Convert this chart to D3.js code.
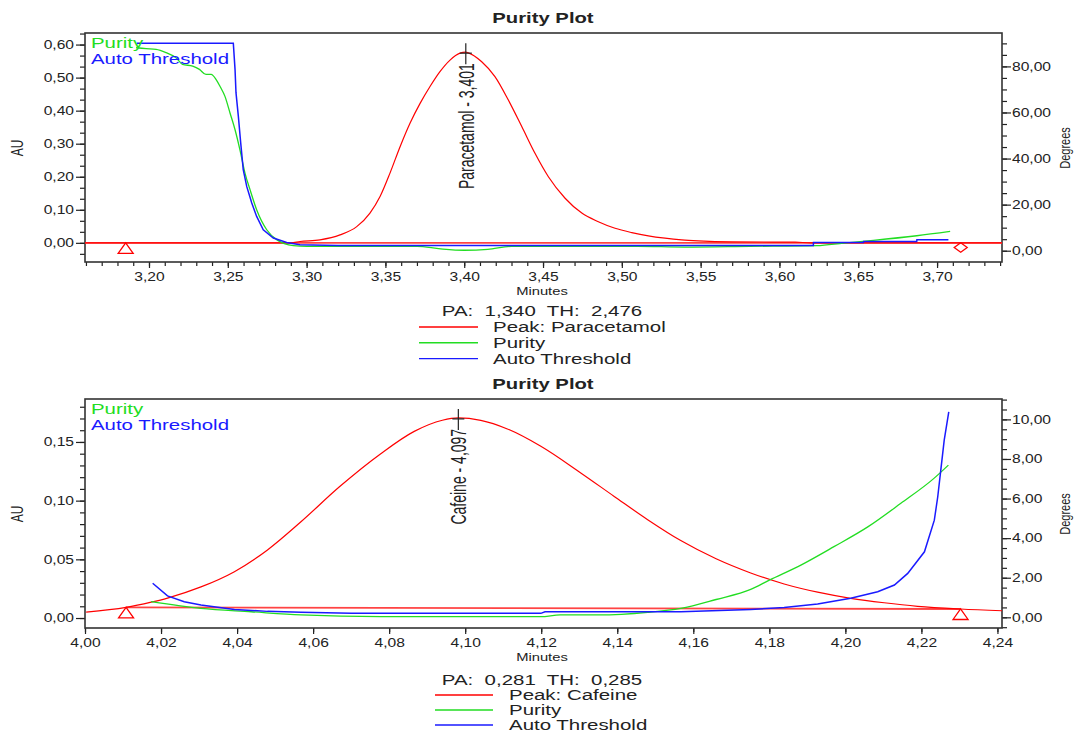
<!DOCTYPE html>
<html>
<head>
<meta charset="utf-8">
<script src="https://cdn.jsdelivr.net/npm/d3@7"></script>
<style>
body { margin: 0; background: #fff; }
svg { display: block; }
text { font-family: 'Liberation Sans', Arial, sans-serif; }
</style>
</head>
<body>
<svg id="chart" width="1079" height="736"></svg>
<script>
// ---------- top plot : Paracetamol ----------
var paraTime = [3.1594, 3.2900, 3.2958, 3.3085, 3.3212, 3.3318, 3.3402, 3.3466, 3.3529, 3.3593, 3.3656, 3.3720,
                3.3783, 3.3846, 3.3910, 3.3973, 3.4010, 3.4026, 3.4111, 3.4195, 3.4280, 3.4365, 3.4449, 3.4534,
                3.4640, 3.4746, 3.4851, 3.4957, 3.5063, 3.5168, 3.5274, 3.5380, 3.5486, 3.5700, 3.6100, 3.6200, 3.7412];
var paraAU   = [0, 0, 0.004, 0.009, 0.024, 0.049, 0.090, 0.140, 0.211, 0.291, 0.362, 0.422,
                0.473, 0.518, 0.553, 0.574, 0.577, 0.575, 0.548, 0.503, 0.432, 0.352, 0.271, 0.200,
                0.135, 0.090, 0.064, 0.044, 0.031, 0.021, 0.014, 0.009, 0.006, 0.003, 0.002, 0, 0];

var purity1Time = [3.1918, 3.1982, 3.2045, 3.2108, 3.2171, 3.2213, 3.2277, 3.2320, 3.2362, 3.2394, 3.2426, 3.2451,
                   3.2482, 3.2514, 3.2546, 3.2577, 3.2609, 3.2641, 3.2683, 3.2747, 3.2810, 3.2916, 3.3001, 3.3700,
                   3.3850, 3.4000, 3.4150, 3.4300, 3.5100, 3.5400, 3.5813, 3.6237, 3.6406, 3.6596, 3.6871, 3.7083];
var purity1Deg  = [88.1, 87.7, 87.4, 86.0, 83.8, 80.9, 80.1, 78.7, 76.5, 76.5, 74.3, 71.3,
                   67.0, 59.8, 52.5, 43.8, 33.7, 26.5, 17.8, 9.1, 4.8, 2.2, 1.9, 1.9,
                   0.8, 0.2, 0.6, 1.9, 1.9, 1.6, 1.9, 2.2, 3.3, 4.5, 6.5, 8.4];

var thresh1Time = [3.1924, 3.2535, 3.2546, 3.2552, 3.2567, 3.2582, 3.2598, 3.2620, 3.2652, 3.2683, 3.2725, 3.2789,
                   3.2874, 3.2958, 3.3200, 3.6215, 3.6216, 3.6533, 3.6534, 3.6871, 3.6872, 3.7072];
var thresh1Deg  = [90.1, 90.1, 78.6, 68.6, 58.3, 46.7, 35.2, 27.9, 20.7, 14.9, 9.1, 5.5,
                   3.6, 2.6, 2.3, 2.3, 3.6, 3.6, 4.0, 4.0, 4.8, 4.8];

var topMinuteTicks = [3.20, 3.25, 3.30, 3.35, 3.40, 3.45, 3.50, 3.55, 3.60, 3.65, 3.70];
var topAUTicks = [0, 0.10, 0.20, 0.30, 0.40, 0.50, 0.60];
var topDegTicks = [0, 20, 40, 60, 80];

// ---------- bottom plot : Cafeine ----------
var cafTime = [4.0003, 4.0108, 4.0174, 4.0217, 4.0305, 4.0393, 4.0480, 4.0568, 4.0670, 4.0778, 4.0866, 4.0940,
               4.0982, 4.1041, 4.1111, 4.1199, 4.1304, 4.1392, 4.1480, 4.1567, 4.1660, 4.1751, 4.1839, 4.1927,
               4.2014, 4.2102, 4.2190, 4.2303, 4.2412];
var cafAU   = [0.0051, 0.0090, 0.0135, 0.0170, 0.0265, 0.0395, 0.0580, 0.0820, 0.1120, 0.1400, 0.1590, 0.1685,
               0.1705, 0.1684, 0.1611, 0.1463, 0.1236, 0.1036, 0.0838, 0.0660, 0.0505, 0.0384, 0.0290, 0.0220,
               0.0168, 0.0130, 0.0100, 0.0077, 0.0062];

var purity2Time = [4.0174, 4.0305, 4.0437, 4.0568, 4.0778, 4.1199, 4.1250, 4.1350, 4.1480, 4.1567, 4.1660, 4.1751,
                   4.1800, 4.1883, 4.1970, 4.2060, 4.2146, 4.2233, 4.2271];
var purity2Deg  = [0.79, 0.45, 0.28, 0.12, 0.03, 0.03, 0.12, 0.12, 0.25, 0.45, 0.90, 1.41,
                   1.88, 2.64, 3.57, 4.58, 5.76, 7.02, 7.69];

var thresh2Time = [4.0178, 4.0217, 4.0261, 4.0305, 4.0393, 4.0480, 4.0568, 4.0700, 4.1199, 4.1210, 4.1567, 4.1751,
                   4.1839, 4.1927, 4.2014, 4.2085, 4.2129, 4.2164, 4.2208, 4.2234, 4.2243, 4.2251, 4.2260, 4.2272];
var thresh2Deg  = [1.72, 1.08, 0.79, 0.62, 0.40, 0.30, 0.25, 0.20, 0.20, 0.28, 0.28, 0.40,
                   0.49, 0.67, 0.96, 1.29, 1.63, 2.22, 3.31, 4.91, 6.09, 7.44, 8.95, 10.38];

var botMinuteTicks = [4.00, 4.02, 4.04, 4.06, 4.08, 4.10, 4.12, 4.14, 4.16, 4.18, 4.20, 4.22, 4.24];
var botAUTicks = [0, 0.05, 0.10, 0.15];
var botDegTicks = [0, 2, 4, 6, 8, 10];

// peak start / end (minutes, AU)
var paraStart = [3.1852, 0], paraEnd = [3.7150, 0];
var cafStart = [4.0108, 0.0090], cafEnd = [4.2303, 0.0077];

var seriesNames = ["Purity", "Auto Threshold"];
var RED = "#ff0000", GREEN = "#22dd22", BLUE = "#1a1aff", INK = "#222";

var svg = d3.select("#chart");
var L = 85, R = 1002;

var fmt = function (v) { return d3.format(".2f")(v).replace(".", ","); };

// the reference is horizontally stretched, so text is widened too
function widen(sel, k) {
    sel.each(function () {
        var w = this.getComputedTextLength();
        d3.select(this).attr("textLength", w * k).attr("lengthAdjust", "spacingAndGlyphs");
    });
}

function vtext(g, x, y, str, size, k, anchor) {
    g.append("text")
        .attr("transform", "translate(" + x + "," + y + ") scale(" + k + ",1) rotate(-90)")
        .attr("text-anchor", anchor)
        .attr("dy", "0.35em")
        .style("font-size", size + "px")
        .attr("fill", INK)
        .text(str);
}

function htext(g, x, y, str, opts) {
    var t = g.append("text")
        .attr("x", x).attr("y", y)
        .attr("text-anchor", opts.anchor || "start")
        .style("font-size", (opts.size || 15) + "px")
        .style("font-weight", opts.bold ? "bold" : "normal")
        .style("white-space", "pre")
        .attr("fill", opts.color || INK)
        .text(str);
    widen(t, opts.k || 1.35);
    return t;
}

function drawPanel(p) {
    var x = d3.scaleLinear().domain(p.xDomain).range([L, R]);
    var yA = d3.scaleLinear().domain(p.auDomain).range([p.bottom, p.top]);
    var yD = d3.scaleLinear().domain(p.degDomain).range([p.bottom, p.top]);
    var g = svg.append("g");

    g.append("clipPath").attr("id", p.id + "clip")
        .append("rect").attr("x", L).attr("y", p.top).attr("width", R - L).attr("height", p.bottom - p.top);

    // axes: minor ticks first, then labelled majors
    g.append("g").attr("transform", "translate(0," + p.bottom + ")")
        .call(d3.axisBottom(x).tickValues(p.xMinor).tickSize(4).tickFormat(""));
    g.append("g").attr("class", "lab").attr("transform", "translate(0," + p.bottom + ")")
        .call(d3.axisBottom(x).tickValues(p.xTicks).tickSize(6).tickPadding(4).tickFormat(fmt));
    g.append("g").attr("transform", "translate(" + L + ",0)")
        .call(d3.axisLeft(yA).tickValues(p.auMinor).tickSize(5).tickFormat(""));
    g.append("g").attr("class", "lab").attr("transform", "translate(" + L + ",0)")
        .call(d3.axisLeft(yA).tickValues(p.auTicks).tickSize(9).tickPadding(2).tickFormat(fmt));
    g.append("g").attr("transform", "translate(" + R + ",0)")
        .call(d3.axisRight(yD).tickValues(p.degMinor).tickSize(5).tickFormat(""));
    g.append("g").attr("class", "lab").attr("transform", "translate(" + R + ",0)")
        .call(d3.axisRight(yD).tickValues(p.degTicks).tickSize(9).tickPadding(1).tickFormat(fmt));

    g.selectAll(".domain").remove();
    g.selectAll(".tick line").attr("stroke", INK).attr("stroke-width", 1.2);
    g.selectAll(".lab .tick text").attr("fill", INK)
        .style("font-family", "'Liberation Sans', Arial, sans-serif").style("font-size", "12px");
    widen(g.selectAll(".lab .tick text"), 1.3);

    g.append("rect").attr("x", L).attr("y", p.top).attr("width", R - L).attr("height", p.bottom - p.top)
        .attr("fill", "none").attr("stroke", "#333").attr("stroke-width", 1.6);

    var plot = g.append("g").attr("clip-path", "url(#" + p.id + "clip)");

    var lineA = d3.line().x(function (d) { return x(d[0]); }).y(function (d) { return yA(d[1]); });
    var lineD = d3.line().x(function (d) { return x(d[0]); }).y(function (d) { return yD(d[1]); });

    // peak baseline
    plot.append("path").datum(p.baseline).attr("d", lineA)
        .attr("fill", "none").attr("stroke", "#ff4444").attr("stroke-width", 1.8);
    // chromatogram
    plot.append("path").datum(d3.zip(p.peakTime, p.peakAU)).attr("d", lineA.curve(d3.curveMonotoneX))
        .attr("fill", "none").attr("stroke", RED).attr("stroke-width", 1.2);
    plot.append("path").datum(d3.zip(p.purTime, p.purDeg)).attr("d", lineD.curve(d3.curveMonotoneX))
        .attr("fill", "none").attr("stroke", GREEN).attr("stroke-width", 1.3);
    plot.append("path").datum(d3.zip(p.thrTime, p.thrDeg)).attr("d", lineD.curve(d3.curveLinear))
        .attr("fill", "none").attr("stroke", BLUE).attr("stroke-width", 1.5);

    // start / end markers
    p.markers.forEach(function (m) {
        var mx = x(m.pt[0]), my = yA(m.pt[1]);
        var d = m.type === "diamond"
            ? "M" + mx + "," + my + "L" + (mx + 6.5) + "," + (my + 4.7) + "L" + mx + "," + (my + 9.4) + "L" + (mx - 6.5) + "," + (my + 4.7) + "Z"
            : "M" + mx + "," + my + "L" + (mx + 7.5) + "," + (my + 10.5) + "L" + (mx - 7.5) + "," + (my + 10.5) + "Z";
        g.append("path").attr("d", d).attr("fill", "none").attr("stroke", RED).attr("stroke-width", 1.3);
    });

    // apex marker + label
    var iMax = d3.maxIndex(p.peakAU);
    var ax = x(p.peakTime[iMax]), ay = yA(p.peakAU[iMax]);
    g.append("line").attr("x1", ax).attr("x2", ax).attr("y1", ay - 9).attr("y2", ay + 12)
        .attr("stroke", INK).attr("stroke-width", 1.2);
    g.append("line").attr("x1", ax - 6).attr("x2", ax + 6).attr("y1", ay + 1).attr("y2", ay + 1)
        .attr("stroke", INK).attr("stroke-width", 1.2);
    vtext(g, ax, ay + 11, p.apexLabel, 14, 1.6, "end");

    // in-plot legend
    htext(g, 91, p.top + 15.3, seriesNames[0], { color: GREEN, size: 15, k: 1.36 });
    htext(g, 91, p.top + 31.3, seriesNames[1], { color: BLUE, size: 15, k: 1.36 });

    // axis titles
    vtext(g, 18, (p.top + p.bottom) / 2 + 0.5, "AU", 12, 1.3, "middle");
    vtext(g, 1065, (p.top + p.bottom) / 2 + 0.5, "Degrees", 11, 1.3, "middle");
    htext(g, 542, p.bottom + 33, "Minutes", { anchor: "middle", size: 11, k: 1.34 });

    // title
    htext(g, 543, p.top - 9.7, "Purity Plot", { anchor: "middle", size: 15, bold: true, k: 1.35 });

    // bottom legend
    htext(g, 542, p.paY, p.paText, { anchor: "middle", size: 14, k: 1.46 });
    var names = ["Peak: " + p.peakName, seriesNames[0], seriesNames[1]];
    var cols = [RED, GREEN, BLUE];
    names.forEach(function (n, i) {
        var ly = p.legY + i * p.legStep;
        g.append("line").attr("x1", p.legX1).attr("x2", p.legX2).attr("y1", ly).attr("y2", ly)
            .attr("stroke", cols[i]).attr("stroke-width", 1.4);
        htext(g, p.legTextX, ly + 5, n, { size: 14, k: 1.46 });
    });
}

function stepRange(a, b, s) {
    return d3.range(Math.round(a / s), Math.round(b / s) + 1).map(function (i) { return i * s; });
}

drawPanel({
    id: "p1", top: 33, bottom: 262,
    xDomain: [3.1594, 3.7412], auDomain: [-0.058, 0.635], degDomain: [-4.9, 94.5],
    xTicks: topMinuteTicks, xMinor: stepRange(3.16, 3.74, 0.01),
    auTicks: topAUTicks, auMinor: stepRange(-0.0333, 0.6334, 0.1 / 3),
    degTicks: topDegTicks, degMinor: stepRange(-0, 90, 5),
    peakTime: paraTime, peakAU: paraAU, peakName: "Paracetamol", apexLabel: "Paracetamol - 3,401",
    purTime: purity1Time, purDeg: purity1Deg, thrTime: thresh1Time, thrDeg: thresh1Deg,
    baseline: [[3.1594, 0], [3.7412, 0]],
    markers: [{ pt: paraStart, type: "triangle" }, { pt: paraEnd, type: "diamond" }],
    paText: "PA:  1,340  TH:  2,476", paY: 315.5,
    legY: 327, legStep: 15.8, legX1: 419, legX2: 478, legTextX: 493
});

drawPanel({
    id: "p2", top: 399, bottom: 628,
    xDomain: [4.0, 4.2412], auDomain: [-0.0085, 0.1866], degDomain: [-0.54, 11.03],
    xTicks: botMinuteTicks, xMinor: stepRange(4.01, 4.23, 0.02),
    auTicks: botAUTicks, auMinor: stepRange(0, 0.18, 0.01),
    degTicks: botDegTicks, degMinor: stepRange(-0.5, 11, 0.5),
    peakTime: cafTime, peakAU: cafAU, peakName: "Cafeine", apexLabel: "Cafeine - 4,097",
    purTime: purity2Time, purDeg: purity2Deg, thrTime: thresh2Time, thrDeg: thresh2Deg,
    baseline: [cafStart, cafEnd],
    markers: [{ pt: cafStart, type: "triangle" }, { pt: cafEnd, type: "triangle" }],
    paText: "PA:  0,281  TH:  0,285", paY: 684.5,
    legY: 695, legStep: 15, legX1: 435, legX2: 493, legTextX: 509
});
</script>
</body>
</html>
